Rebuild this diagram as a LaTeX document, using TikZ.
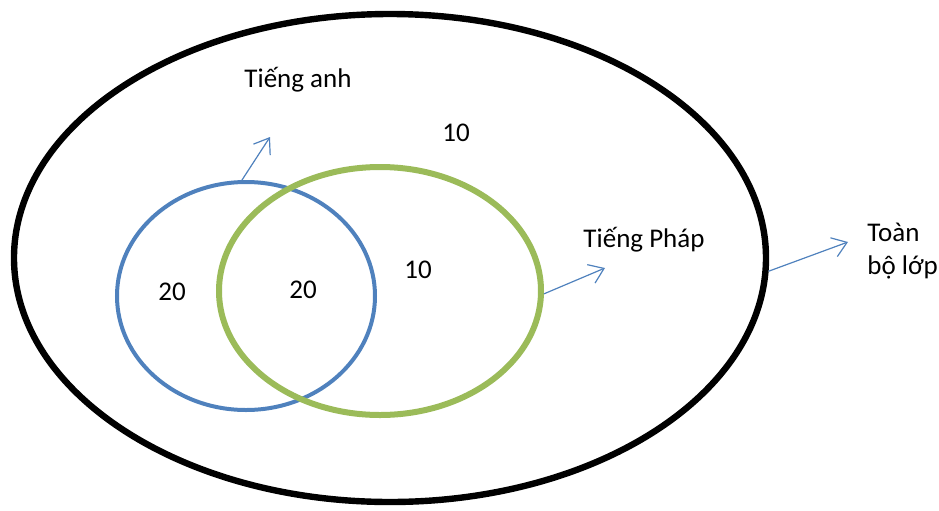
\documentclass[tikz,border=0pt]{standalone}
\usepackage{fontspec}
\setmainfont{Carlito}
\usetikzlibrary{shapes.geometric, arrows.meta}

\definecolor{vennblue}{RGB}{79,129,189}
\definecolor{venngreen}{RGB}{155,187,89}

\begin{document}
\begin{tikzpicture}[x=0.5pt, y=-0.5pt,
        font=\fontsize{13.5}{16.5}\selectfont,
        set/.style={draw, ellipse, inner sep=0pt},
        pointer/.style={draw=vennblue, line width=0.6pt, -{Straight Barb[length=7pt, width=10pt]}}]
        \useasboundingbox (0,0) rectangle (939,510);

        % the three sets
        \node[set, line width=3.2pt, minimum width=376pt, minimum height=244pt]          (lop) at (390,258) {};
        \node[set, draw=vennblue, line width=2pt, minimum width=129pt, minimum height=114pt]   (eng) at (246,296) {};
        \node[set, draw=venngreen, line width=3pt, minimum width=161pt, minimum height=124pt]  (fra) at (380,291) {};

        % labels
        \node (tienganh)  at (298,80)  {Tiếng anh};
        \node (tiengphap) at (644,240) {Tiếng Pháp};
        \node[anchor=north west, align=left, inner sep=0pt] (toanbo) at (867,223) {Toàn\\bộ lớp};

        % numbers
        \node (nrest) at (456,133) {10};
        \node (nfra)  at (418,270) {10};
        \node (neng)  at (172,292) {20};
        \node (nboth) at (303,290) {20};

        % pointers
        \coordinate (pa) at (270,137);
        \coordinate (pb) at (605,268);
        \coordinate (pc) at (848,242);
        \draw[pointer] (eng.92) -- (pa);
        \draw[pointer] (fra.-1) -- (pb);
        \draw[pointer] (lop.-2) -- (pc);
      \end{tikzpicture}
\end{document}
